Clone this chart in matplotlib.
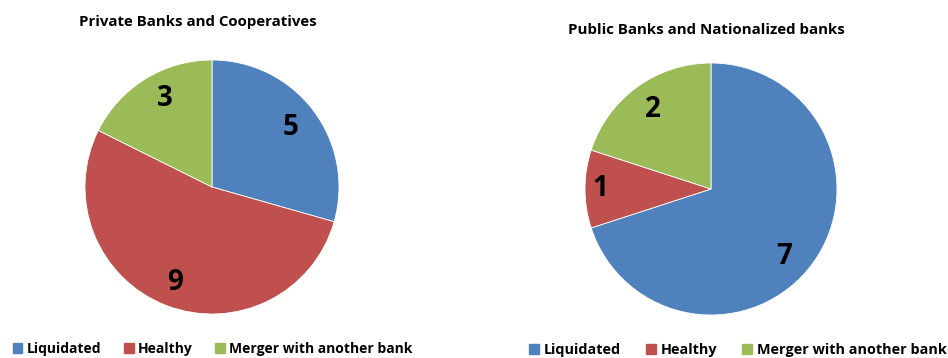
import matplotlib.pyplot as plt
from matplotlib.patches import Patch
import numpy as np

categories = ["Liquidated", "Healthy", "Merger with another bank"]
private_counts = [5, 9, 3]
public_counts = [7, 1, 2]
titles = ["Private Banks and Cooperatives", "Public Banks and Nationalized banks"]

colors = ["#4F81BD", "#C0504D", "#9BBB59"]

plt.rcParams['font.family'] = ['Open Sans', 'DejaVu Sans']

fig = plt.figure(figsize=(9.48, 3.58), dpi=100)


def px_axes(cx, cy, r):
    # axes box in figure fractions from pie centre/radius in pixels
    return [(cx - r) / 948, (358 - cy - r) / 358, 2 * r / 948, 2 * r / 358]


def draw_pie(ax, counts, dists, shifts):
    wedges, _ = ax.pie(counts, colors=colors, startangle=90, counterclock=False,
                       radius=1, wedgeprops=dict(linewidth=0.6, edgecolor="white"))
    for w, n, d, s in zip(wedges, counts, dists, shifts):
        ang = np.deg2rad((w.theta1 + w.theta2) / 2 + s)
        ax.text(d * np.cos(ang), d * np.sin(ang), str(n), ha="center", va="center",
                fontsize=20, fontweight="bold", color="black")
    ax.set_xlim(-1, 1)
    ax.set_ylim(-1, 1)
    ax.set_aspect("equal")
    ax.axis("off")


ax1 = fig.add_axes(px_axes(212, 187, 127))
draw_pie(ax1, private_counts, [0.78, 0.81, 0.79], [0, 0, -4])
ax2 = fig.add_axes(px_axes(711, 189, 126))
draw_pie(ax2, public_counts, [0.79, 0.88, 0.78], [-7, 0, 0])

fig.text(198 / 948, 1 - 22 / 358, titles[0], ha="center", va="center",
         fontsize=10.8, fontweight="bold")
fig.text(706 / 948, 1 - 30 / 358, titles[1], ha="center", va="center",
         fontsize=10.8, fontweight="bold")

handles = [Patch(facecolor=c, edgecolor=c) for c in colors]
fig.legend(handles, categories, loc="center left", bbox_to_anchor=(0 / 948, 1 - 349 / 358),
           ncol=3, frameon=False, prop=dict(size=10, weight="bold"),
           handlelength=0.7, handleheight=0.7, handletextpad=0.3, columnspacing=1.65)
fig.legend(handles, categories, loc="center left", bbox_to_anchor=(516 / 948, 1 - 350 / 358),
           ncol=3, frameon=False, prop=dict(size=10.4, weight="bold"),
           handlelength=0.7, handleheight=0.7, handletextpad=0.3, columnspacing=1.75)

fig.savefig("out.png", dpi=100)
